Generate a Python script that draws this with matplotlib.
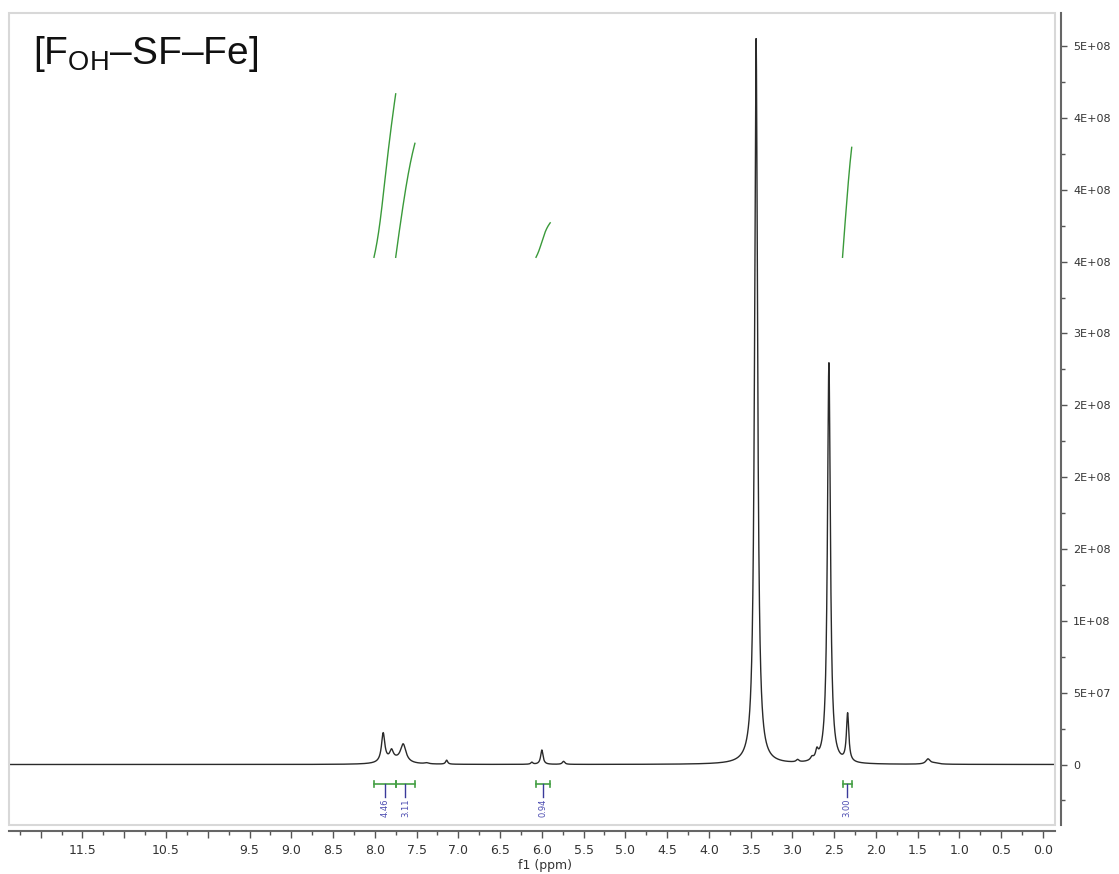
import matplotlib
matplotlib.use("Agg")
import matplotlib.pyplot as plt
import numpy as np
from matplotlib.patches import Rectangle

plt.rcParams['font.family'] = ['DejaVu Sans']
plt.rcParams['mathtext.fontset'] = 'custom'
plt.rcParams['mathtext.rm'] = 'Liberation Sans'

# peak table: centre (ppm), height, half width (ppm)
peak_ppm = [7.90, 7.80, 7.66, 7.78, 7.38, 7.14, 6.12, 6.00, 5.74,
            3.435, 2.938, 2.766, 2.707, 2.563, 2.339, 1.377, 1.30]
peak_height = [2.0e7, 6.0e6, 1.25e7, 3.0e6, 7e5, 2.8e6, 1.4e6, 1.0e7, 2.1e6,
               5.05e8, 1.7e6, 2.1e6, 5.6e6, 2.79e8, 3.34e7, 3.5e6, 8e5]
peak_hw = [0.024, 0.025, 0.04, 0.12, 0.03, 0.015, 0.015, 0.017, 0.018,
           0.0215, 0.02, 0.02, 0.018, 0.021, 0.017, 0.03, 0.06]

# integrations: start ppm, end ppm, value
int_start = [8.01, 7.75, 6.07, 2.40]
int_end = [7.75, 7.52, 5.90, 2.29]
int_value = [4.46, 3.11, 0.94, 3.00]

xtick_values = [12.0, 11.5, 11.0, 10.5, 10.0, 9.5, 9.0, 8.5, 8.0, 7.5, 7.0, 6.5,
                6.0, 5.5, 5.0, 4.5, 4.0, 3.5, 3.0, 2.5, 2.0, 1.5, 1.0, 0.5, 0.0]
xtick_labels = ['', '11.5', '', '10.5', '', '9.5', '9.0', '8.5', '8.0', '7.5', '7.0', '6.5',
                '6.0', '5.5', '5.0', '4.5', '4.0', '3.5', '3.0', '2.5', '2.0', '1.5', '1.0', '0.5', '0.0']
ytick_values = [0, 5e7, 1e8, 1.5e8, 2e8, 2.5e8, 3e8, 3.5e8, 4e8, 4.5e8, 5e8]
ytick_labels = ['0', '5E+07', '1E+08', '2E+08', '2E+08', '2E+08', '3E+08', '4E+08', '4E+08', '4E+08', '5E+08']

x = np.arange(12.38, -0.145, -0.0005)


def lorentz_sum(xx, broad=1.0):
    s = np.zeros_like(xx)
    for c, h, w in zip(peak_ppm, peak_height, peak_hw):
        s += h / (1 + ((xx - c) / (w * broad)) ** 2)
    return s


y = lorentz_sum(x)

fig = plt.figure(figsize=(11.19, 8.74), dpi=100)
ax = fig.add_axes([9 / 1119, 1 - 825 / 874, 1046 / 1119, 812 / 874])
ax.set_xlim(12.38, -0.144)
ax.set_ylim(-4.21e7, 5.23e8)

ax.plot(x, y, color='#2a2a2a', lw=1.0)

# integral curves (drawn smoothed, like the display of the program)
curve_base = 3.53e8
curve_scale = 2.55e7
for a, b, v in zip(int_start, int_end, int_value):
    xs = np.linspace(a, b, 400)
    ys = lorentz_sum(xs, broad=4.0)
    cum = np.concatenate([[0], np.cumsum((ys[1:] + ys[:-1]) / 2)])
    ax.plot(xs, curve_base + curve_scale * v * cum / cum[-1], color='#3a9a3a', lw=1.0)

# integration brackets and labels
br_y = -1.357e7
cap = 2.2e6
for a, b, v in zip(int_start, int_end, int_value):
    ax.plot([a, b], [br_y, br_y], color='#45a045', lw=1.2)
    ax.plot([a, a], [br_y - cap, br_y + cap], color='#45a045', lw=1.2)
    ax.plot([b, b], [br_y - cap, br_y + cap], color='#45a045', lw=1.2)
    m = (a + b) / 2
    ax.plot([m, m], [br_y, -2.26e7], color='#3a3a9a', lw=1.0)
    ax.text(m, -2.37e7, '%.2f' % v, rotation=90, ha='center', va='top',
            fontsize=6, color='#4a4ab0')

# frame and spines
ax.add_patch(Rectangle((0, 0), 1, 1, transform=ax.transAxes, fill=False,
                       ec='#d8d8d8', lw=1.5, clip_on=False, zorder=5))
for s in ['top', 'left']:
    ax.spines[s].set_visible(False)
ax.spines['right'].set_position(('outward', 4))
ax.spines['bottom'].set_position(('outward', 4.5))
for s in ['right', 'bottom']:
    ax.spines[s].set_color('#666666')
    ax.spines[s].set_linewidth(1.5)

ax.yaxis.tick_right()
ax.set_yticks(ytick_values)
ax.set_yticklabels(ytick_labels)
ax.set_yticks(np.arange(-2.5e7, 5.2e8, 2.5e7), minor=True)
ax.set_xticks(xtick_values)
ax.set_xticklabels(xtick_labels)
ax.set_xticks(np.arange(0.25, 12.3, 0.5), minor=True)

ax.tick_params(axis='x', which='major', direction='out', length=5, width=1,
               color='#555555', labelsize=9, labelcolor='#333333', pad=4)
ax.tick_params(axis='x', which='minor', direction='out', length=3, width=1, color='#555555')
ax.tick_params(axis='y', which='major', direction='out', length=4, width=1,
               color='#555555', labelsize=8, labelcolor='#333333', pad=5)
ax.tick_params(axis='y', which='minor', direction='out', length=3, width=1, color='#555555')

ax.set_xlabel('f1 (ppm)', fontsize=9, color='#333333')
ax.xaxis.set_label_coords((545 - 9) / 1046, (825 - 859) / 812)

fig.text(33 / 1119, 1 - 64 / 874, r'[F$_{\mathrm{OH}}$–SF–Fe]', fontsize=28,
         family='Liberation Sans', va='baseline', ha='left', color='#111111')

fig.savefig('out.png', dpi=100)
